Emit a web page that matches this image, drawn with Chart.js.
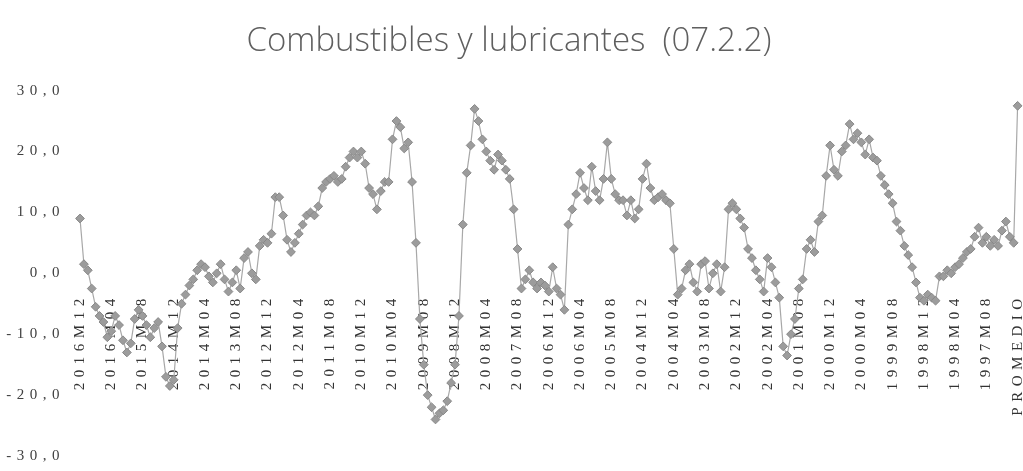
<!DOCTYPE html>
<html>
<head>
<meta charset="utf-8">
<script src="https://cdn.jsdelivr.net/npm/chart.js@4/dist/chart.umd.min.js"></script>
<style>
  html, body { margin: 0; padding: 0; background: #fff; }
  #wrap { width: 1023px; height: 471px; }
</style>
</head>
<body>
<div id="wrap"><canvas id="combustibles"></canvas></div>
<script>
/* Combustibles y lubricantes (07.2.2) - variacion anual, de 2016M12 hacia 1997M01 */
const chartTitle = "Combustibles y lubricantes  (07.2.2)";
const firstYear = 2016;
const lastYear = 1997;
const averageLabel = "PROMEDIO";
const yTicks = [-30, -20, -10, 0, 10, 20, 30];

// one value per month, newest first, then the average
const values = [
  9, 1.5, 0.5, -2.5, -5.5, -7, -8, -10.5, -9.5, -7, -8.5, -11,            // 2016
  -13, -11.5, -7.5, -6, -7, -8.5, -10.5, -9, -8, -12, -17, -18.5,         // 2015
  -17.5, -9, -5, -3.5, -2, -1, 0.5, 1.5, 1, -0.5, -1.5, 0,                // 2014
  1.5, -1, -3, -1.5, 0.5, -2.5, 2.5, 3.5, 0, -1, 4.5, 5.5,                // 2013
  5, 6.5, 12.5, 12.5, 9.5, 5.5, 3.5, 5, 6.5, 8, 9.5, 10,                  // 2012
  9.5, 11, 14, 15, 15.5, 16, 15, 15.5, 17.5, 19, 20, 19,                  // 2011
  20, 18, 14, 13, 10.5, 13.5, 15, 15, 22, 25, 24, 20.5,                   // 2010
  21.5, 15, 5, -7.5, -15, -20, -22, -24, -23, -22.5, -21, -18,            // 2009
  -15, -7, 8, 16.5, 21, 27, 25, 22, 20, 18.5, 17, 19.5,                   // 2008
  18.5, 17, 15.5, 10.5, 4, -2.5, -1, 0.5, -1.5, -2.5, -1.5, -2,           // 2007
  -3, 1, -2.5, -3.5, -6, 8, 10.5, 13, 16.5, 14, 12, 17.5,                 // 2006
  13.5, 12, 15.5, 21.5, 15.5, 13, 12, 12, 9.5, 12, 9, 10.5,               // 2005
  15.5, 18, 14, 12, 12.5, 13, 12, 11.5, 4, -3.5, -2.5, 0.5,               // 2004
  1.5, -1.5, -3, 1.5, 2, -2.5, 0, 1.5, -3, 1, 10.5, 11.5,                 // 2003
  10.5, 9, 7.5, 4, 2.5, 0.5, -1, -3, 2.5, 1, -1.5, -4,                    // 2002
  -12, -13.5, -10, -7.5, -2.5, -1, 4, 5.5, 3.5, 8.5, 9.5, 16,             // 2001
  21, 17, 16, 20, 21, 24.5, 22, 23, 21.5, 19.5, 22, 19,                   // 2000
  18.5, 16, 14.5, 13, 11.5, 8.5, 7, 4.5, 3, 1, -1.5, -4,                  // 1999
  -4.5, -3.5, -4, -4.5, -0.5, -0.5, 0.5, 0, 1, 1.5, 2.5, 3.5,             // 1998
  4, 6, 7.5, 5, 6, 4.5, 5.5, 4.5, 7, 8.5, 6, 5,                           // 1997
  27.5                                                                    // promedio
];

const months = [];
for (let y = firstYear; y >= lastYear; y--) {
  for (let m = 12; m >= 1; m--) {
    months.push(y + "M" + String(m).padStart(2, "0"));
  }
}
const labels = months.concat([averageLabel]);

// Excel-like wide spacing on the axis labels
const spacedLabels = {
  id: "spacedLabels",
  beforeDraw(chart) {
    Object.values(chart.scales).forEach((s) => {
      if (s._spaced) return;
      const orig = s.drawLabels.bind(s);
      s.drawLabels = (area) => {
        const c = s.ctx;
        const old = c.letterSpacing;
        c.letterSpacing = "5.5px";
        orig(area);
        c.letterSpacing = old;
      };
      s._spaced = true;
    });
  },
};

new Chart(document.getElementById("combustibles"), {
  type: "line",
  data: {
    labels: labels,
    datasets: [
      {
        label: chartTitle,
        data: values,
        borderColor: "#a8a8a8",
        borderWidth: 1.2,
        pointStyle: "rectRot",
        pointRadius: 4.4,
        pointBackgroundColor: "#9c9c9c",
        pointBorderColor: "#888888",
        pointBorderWidth: 1,
        tension: 0,
      },
    ],
  },
  plugins: [spacedLabels],
  options: {
    responsive: true,
    maintainAspectRatio: false,
    animation: false,
    layout: { padding: { top: 0, right: 5, bottom: 15, left: 0 } },
    plugins: {
      legend: { display: false },
      tooltip: { enabled: false },
      title: {
        display: true,
        text: chartTitle,
        color: "#5f5f5f",
        font: { family: "'Open Sans', sans-serif", size: 33, weight: "300" },
        padding: { top: 22, bottom: 29 },
      },
    },
    scales: {
      x: {
        type: "category",
        position: { y: 0 },
        afterFit: (s) => { s.paddingLeft = 0; s.paddingRight = 0; },
        grid: { display: false, drawTicks: false },
        border: { display: false },
        ticks: {
          autoSkip: false,
          minRotation: 90,
          maxRotation: 90,
          padding: 20,
          color: "#333333",
          font: { family: "'Liberation Serif', serif", size: 15 },
          callback: function (v, i) {
            return i % 8 === 0 ? labels[i] : null;
          },
        },
      },
      y: {
        min: -30,
        max: 30,
        afterFit: (s) => { s.width = 80; s.paddingTop = 8; s.paddingBottom = 8; },
        afterBuildTicks: (s) => { s.ticks = yTicks.map((v) => ({ value: v })); },
        grid: { display: false, drawTicks: false },
        border: { display: false },
        ticks: {
          padding: 15,
          color: "#404040",
          font: { family: "'Liberation Serif', serif", size: 15 },
          callback: (v) => v.toFixed(1).replace(".", ","),
        },
      },
    },
  },
});
</script>
</body>
</html>
